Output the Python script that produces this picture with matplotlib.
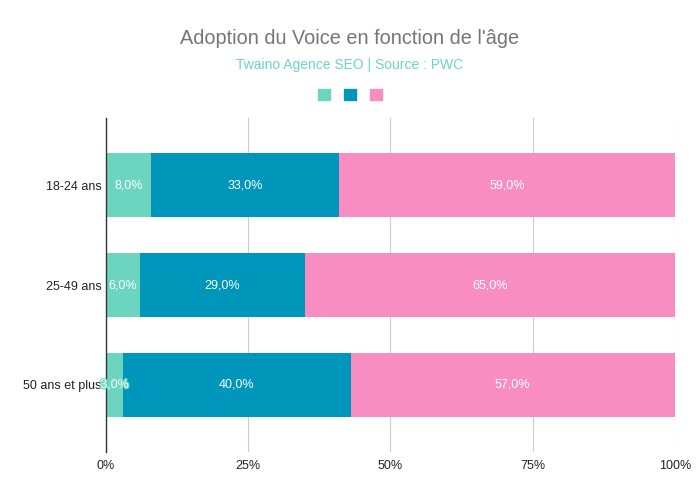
import matplotlib.pyplot as plt
import matplotlib.patheffects as pe
from matplotlib.patches import Patch

plt.rcParams['font.family'] = ['Liberation Sans', 'DejaVu Sans']

# données
categories = ['18-24 ans', '25-49 ans', '50 ans et plus']
serie_a = [8, 6, 3]
serie_b = [33, 29, 40]
serie_c = [59, 65, 57]
x_ticks = [0, 25, 50, 75, 100]
x_labels = ['0%', '25%', '50%', '75%', '100%']

colors = ['#6bd5c0', '#0096bc', '#f78dc0']

fig = plt.figure(figsize=(7, 4.98), dpi=100)
ax = fig.add_axes([0.1514, 0.0924, 0.8126, 0.6706])

ypos = list(range(len(categories)))
left = [0] * len(categories)
for vals, col in zip([serie_a, serie_b, serie_c], colors):
    bars = ax.barh(ypos, vals, left=left, height=0.64, color=col, zorder=2)
    for b, v in zip(bars, vals):
        cx = b.get_x() + b.get_width() / 2
        t = ax.text(cx, b.get_y() + b.get_height() / 2, f'{v:.1f}'.replace('.', ',') + '%',
                    ha='center', va='center', color='white', fontsize=9, zorder=5)
        if v < 5:
            t.set_path_effects([pe.withStroke(linewidth=1.8, foreground=col)])
    left = [l + v for l, v in zip(left, vals)]

ax.set_xlim(0, 100)
ax.set_ylim(2.67, -0.67)
ax.set_yticks(ypos)
ax.set_yticklabels(categories, fontsize=9, color='#222222')
ax.set_xticks(x_ticks)
ax.set_xticklabels(x_labels, fontsize=9, color='#222222')
ax.tick_params(axis='y', length=0, pad=3)
ax.tick_params(axis='x', length=0, pad=6)
ax.grid(axis='x', color='#cccccc', linewidth=0.8, zorder=0)
for s in ['top', 'right', 'bottom']:
    ax.spines[s].set_visible(False)
ax.spines['left'].set_color('#333333')
ax.spines['left'].set_linewidth(1)
ax.spines['left'].set_zorder(4)

fig.text(0.5, 0.922, "Adoption du Voice en fonction de l'âge", ha='center', va='center',
         fontsize=14.3, color='#757575')
fig.text(0.5, 0.870, 'Twaino Agence SEO | Source : PWC', ha='center', va='center',
         fontsize=10, color='#6bd5c0')

handles = [Patch(facecolor=c, edgecolor=c) for c in colors]
fig.legend(handles, ['', '', ''], ncol=3, loc='center', bbox_to_anchor=(0.5, 0.809),
           frameon=False, handlelength=0.85, handleheight=0.85, handletextpad=0,
           columnspacing=1.05, fontsize=10)

fig.savefig('out.png', dpi=100)
